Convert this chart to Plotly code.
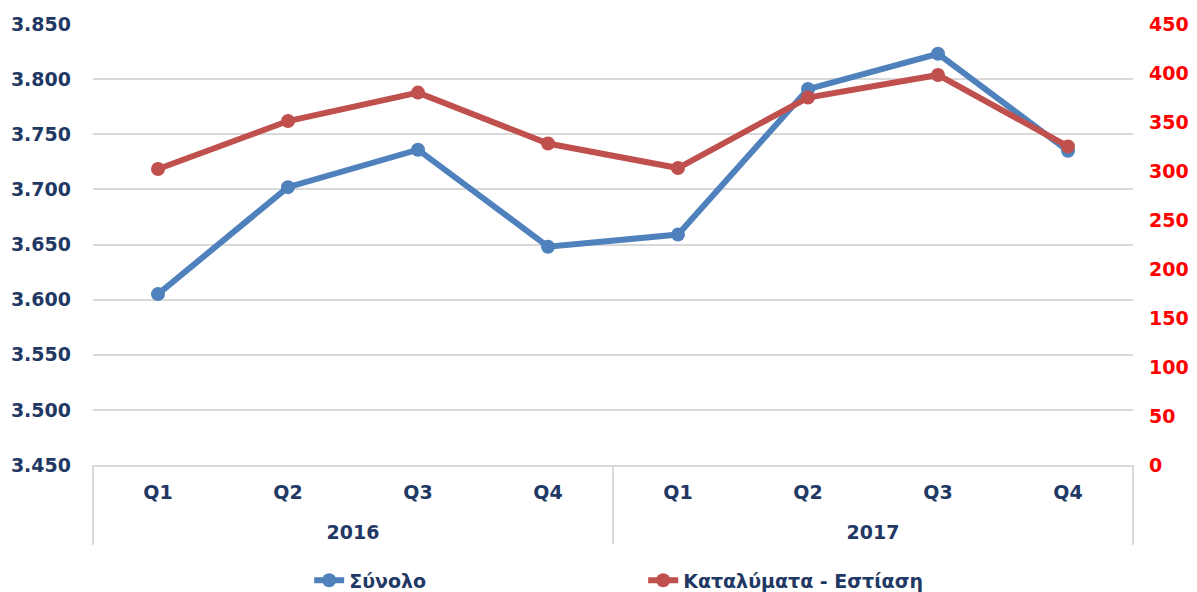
import plotly.graph_objects as go

years = ["2016"] * 4 + ["2017"] * 4
quarters = ["Q1", "Q2", "Q3", "Q4", "Q1", "Q2", "Q3", "Q4"]
total = [3605, 3702, 3736, 3648, 3659, 3791, 3823, 3735]
accommodation = [302, 351, 380, 328, 303, 375, 398, 325]

name_total = "Σύνολο"
name_acc = "Καταλύματα - Εστίαση"

navy = "#1F3864"
blue = "#4F81BD"
red = "#C0504D"
grid = "#D9D9D9"
font_family = "DejaVu Sans"

year_labels = ["<br>" + y for y in years]

fig = go.Figure()
fig.add_trace(go.Scatter(
    x=[year_labels, quarters], y=total, name=name_total, mode="lines+markers",
    line=dict(color=blue, width=6), marker=dict(size=14, color=blue), yaxis="y"))
fig.add_trace(go.Scatter(
    x=[year_labels, quarters], y=accommodation, name=name_acc, mode="lines+markers",
    line=dict(color=red, width=6), marker=dict(size=14, color=red), yaxis="y2"))

# outer divider lines of the category axis (like the Excel multi-level axis)
for xd in (0, 1):
    fig.add_shape(type="line", xref="x domain", yref="paper", x0=xd, x1=xd, y0=0, y1=-0.181,
                  line=dict(color=grid, width=2))

fig.update_layout(
    width=1197, height=592,
    margin=dict(l=85, r=72, t=16, b=135),
    paper_bgcolor="white", plot_bgcolor="white",
    separators=",.",
    font=dict(family=font_family, size=19, color=navy),
    showlegend=True,
    legend=dict(orientation="h", x=0.529, xanchor="center", yref="container", y=0.033, yanchor="middle",
                font=dict(family=font_family, size=19, color=navy, weight="bold"),
                entrywidth=289, entrywidthmode="pixels"),
    xaxis=dict(type="multicategory", range=[-0.5, 7.5], showgrid=False, showline=True,
               linecolor=grid, linewidth=2,
               showdividers=True, dividercolor=grid, dividerwidth=2, automargin=False,
               tickfont=dict(family=font_family, size=19, color=navy, weight="bold"),
               ticks="", zeroline=False, ticklabelstandoff=9),
    yaxis=dict(range=[3450, 3850], dtick=50, tickformat=",d", showgrid=True, gridcolor=grid,
               gridwidth=2, zeroline=False, showline=False, ticks="", automargin=False,
               tickfont=dict(family=font_family, size=19, color=navy, weight="bold"),
               ticklabelstandoff=21),
    yaxis2=dict(range=[0, 450], dtick=50, overlaying="y", side="right", showgrid=False,
                zeroline=False, showline=False, ticks="", automargin=False,
                tickfont=dict(family=font_family, size=19, color="#FF0000", weight="bold"),
                ticklabelstandoff=15),
)

fig.write_html("out.html")
